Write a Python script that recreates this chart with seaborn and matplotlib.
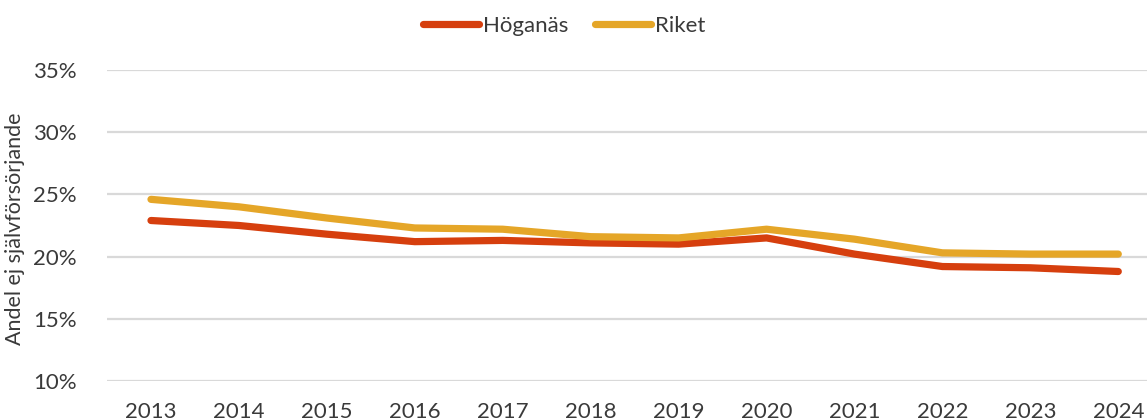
import matplotlib
matplotlib.use("Agg")
import matplotlib.pyplot as plt
import matplotlib.ticker as mticker
import seaborn as sns
import pandas as pd

years = [2013, 2014, 2015, 2016, 2017, 2018, 2019, 2020, 2021, 2022, 2023, 2024]
hoganas = [22.9, 22.5, 21.8, 21.2, 21.3, 21.1, 21.0, 21.5, 20.2, 19.2, 19.1, 18.8]
riket = [24.6, 24.0, 23.1, 22.3, 22.2, 21.6, 21.5, 22.2, 21.4, 20.3, 20.2, 20.2]
series_names = ["Höganäs", "Riket"]
colors = ["#D63F0E", "#E5A628"]
y_ticks = [10, 15, 20, 25, 30, 35]

sns.set_theme(style="white")
plt.rcParams["font.family"] = ["Lato", "DejaVu Sans"]
text_color = "#3A3A3A"

df = pd.DataFrame({
    "pos": list(range(len(years))) * 2,
    "value": hoganas + riket,
    "serie": [series_names[0]] * len(years) + [series_names[1]] * len(years),
})

fig = plt.figure(figsize=(11.47, 4.2), dpi=100)
ax = fig.add_axes([0.0933, 0.0929, 0.92, 0.7405])

sns.lineplot(data=df, x="pos", y="value", hue="serie", palette=colors,
             linewidth=5.2, ax=ax, legend=False, solid_capstyle="round")

ax.set_ylim(10, 35)
ax.set_xlim(-0.5, len(years) - 0.5)
ax.set_yticks(y_ticks)
ax.yaxis.set_major_formatter(mticker.FuncFormatter(lambda v, p: f"{v:.0f}%"))
ax.set_xticks(range(len(years)))
ax.set_xticklabels([str(y) for y in years])
ax.grid(axis="y", color="#D9D9D9", linewidth=1.6)
ax.set_axisbelow(True)
for s in ax.spines.values():
    s.set_visible(False)
ax.tick_params(axis="both", length=0, labelsize=16, colors=text_color)
ax.tick_params(axis="y", pad=22)
ax.tick_params(axis="x", pad=15)
ax.set_xlabel("")
ax.set_ylabel("Andel ej självförsörjande", fontsize=15.5, color=text_color)
ax.yaxis.set_label_coords(-0.078, 0.49)

handles = [plt.Line2D([], [], color=c, linewidth=5.2, solid_capstyle="round") for c in colors]
fig.legend(handles, series_names, loc="upper center", bbox_to_anchor=(0.492, 1.01),
           ncol=2, frameon=False, fontsize=16, handlelength=2.5, handletextpad=0.2,
           columnspacing=1.2, labelcolor=text_color)

fig.savefig("out.png", dpi=100)
